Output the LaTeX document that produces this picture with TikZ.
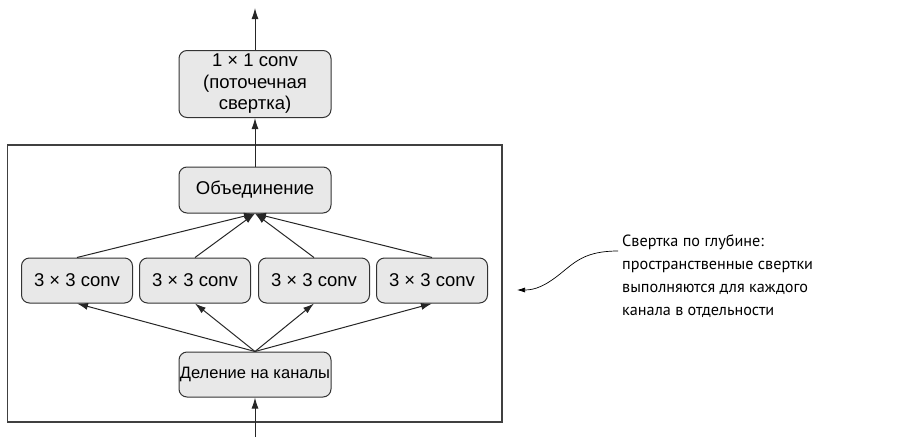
\documentclass[tikz,border=0pt]{standalone}
\usepackage{fontspec}
\setmainfont{Liberation Sans}
\newfontfamily\notefont{PT Sans}
\usetikzlibrary{arrows.meta}

\begin{document}
\begin{tikzpicture}[x=1pt, y=-1pt,
  blok/.style={draw=black!80, fill=black!9, line width=1pt, rounded corners=8pt,
    minimum width=#1, align=center, inner sep=0pt,
    font=\fontsize{18.5}{21.5}\selectfont},
  strelka/.style={line width=1pt, black!85, -{Latex[length=11pt, width=7pt]}},
  notiz/.style={font=\notefont\fontsize{16.2}{23}\selectfont, anchor=north west, align=left, inner sep=0pt}]
  \useasboundingbox (0,0) rectangle (924,437);
  \draw[line width=1.3pt, black!75] (7.5,145) rectangle (502,422);
  \node[blok=152pt, minimum height=67pt] (poin) at (255,84) {1 × 1 conv\\(поточечная\\свертка)};
  \node[blok=152pt, minimum height=46pt] (obed) at (255,190) {Объединение};
  \node[blok=152pt, minimum height=45pt, font=\fontsize{16.5}{18}\selectfont] (delen) at (255,374.5) {Деление на каналы};
  \foreach \i/\x in {1/77,2/195,3/314,4/432}
    \node[blok=111pt, minimum height=45pt] (conv\i) at (\x,280.5) {3 × 3 conv};
  \coordinate (vyhod) at (255,8);
  \coordinate (vhod) at (255,437);
  \draw[strelka] (poin) -- (vyhod);
  \draw[strelka] (obed) -- (poin);
  \draw[strelka] (vhod) -- (delen);
  \foreach \i in {1,...,4} {
    \draw[strelka] (delen.north) -- (conv\i.south);
    \draw[strelka] (conv\i.north) -- (obed.south);
  }
  % podpis sprava
  \node[notiz] (podpis) at (622,235) {Свертка по глубине:\\пространственные свертки\\выполняются для каждого\\канала в отдельности};
  \coordinate (volna) at (618,251);
  \coordinate (cel) at (517,290);
  \draw[line width=0.7pt, -{Latex[length=8pt, width=5pt]}] (volna)
    .. controls (585,251) and (575,262) .. (560,274)
    .. controls (545,286) and (535,290) .. (cel);
\end{tikzpicture}
\end{document}
